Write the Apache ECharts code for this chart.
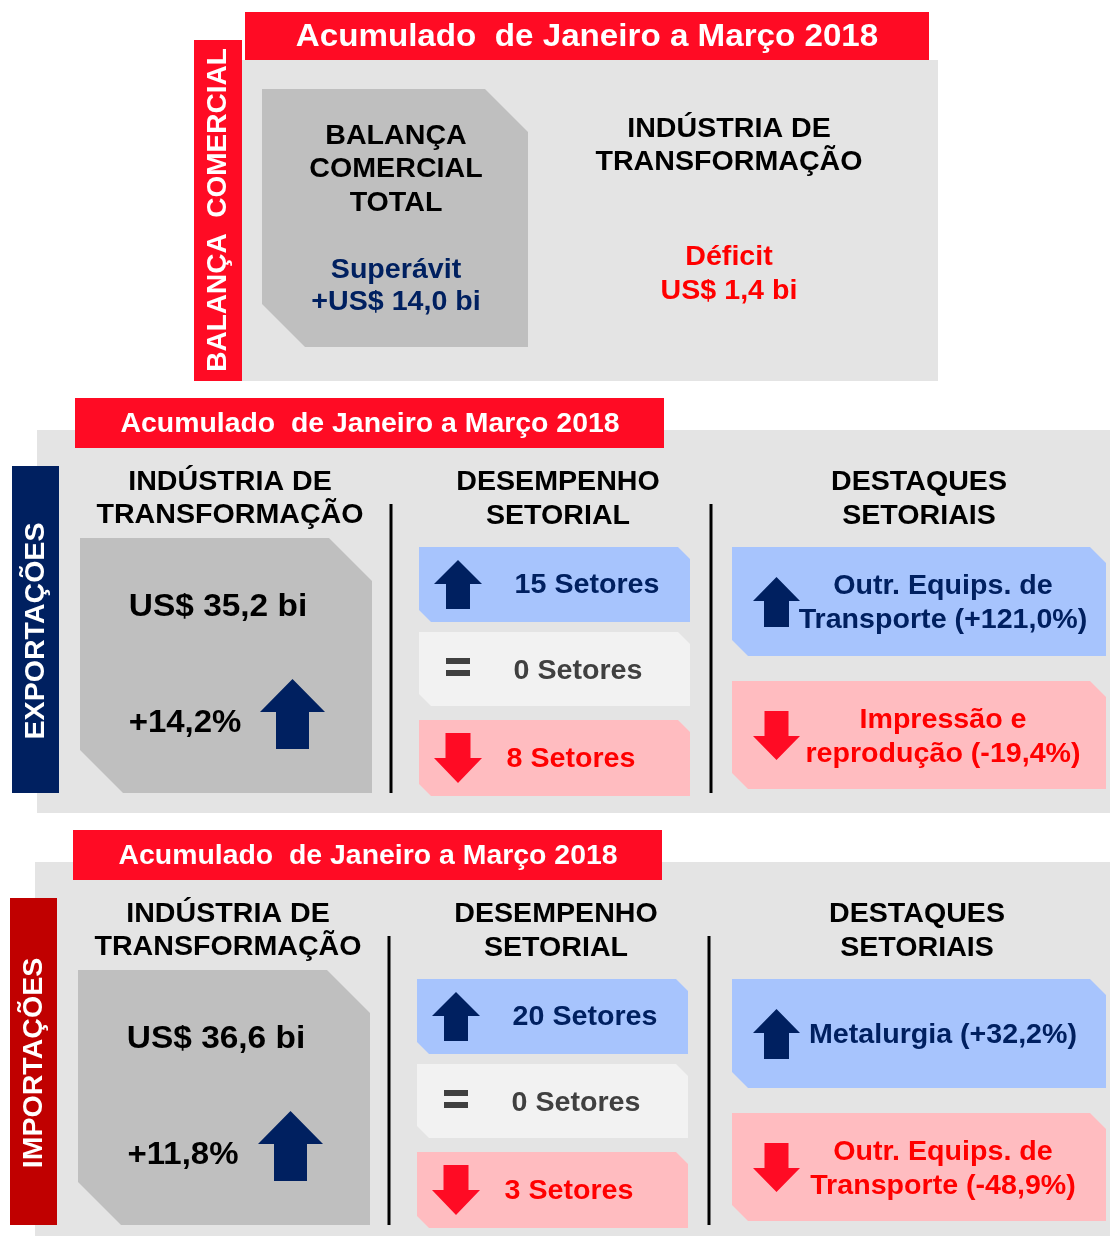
<!DOCTYPE html>
<html><head><meta charset="utf-8">
<script src="https://cdn.jsdelivr.net/npm/echarts@6/dist/echarts.min.js"></script>
<style>html,body{margin:0;padding:0;background:#fff}#c{width:1110px;height:1236px}</style>
</head><body><div id="c"></div>
<script>
// ---- data ----
const periodTitle = 'Acumulado  de Janeiro a Março 2018';
const balanceLabel = 'BALANÇA  COMERCIAL';
const balanceHeader = ['BALANÇA', 'COMERCIAL', 'TOTAL'];
const balanceResult = ['Superávit', '+US$ 14,0 bi'];
const industryHeader = ['INDÚSTRIA DE', 'TRANSFORMAÇÃO'];
const industryResult = ['Déficit', 'US$ 1,4 bi'];
const sectionNames = ['EXPORTAÇÕES', 'IMPORTAÇÕES'];
const sectionValues = ['US$ 35,2 bi', 'US$ 36,6 bi'];
const sectionGrowth = ['+14,2%', '+11,8%'];
const sectorsUp = [15, 20];
const sectorsFlat = [0, 0];
const sectorsDown = [8, 3];
const performanceHeader = ['DESEMPENHO', 'SETORIAL'];
const highlightHeader = ['DESTAQUES', 'SETORIAIS'];
const highlightUp = [['Outr. Equips. de', 'Transporte (+121,0%)'], ['Metalurgia (+32,2%)']];
const highlightDown = [['Impressão e', 'reprodução (-19,4%)'], ['Outr. Equips. de', 'Transporte (-48,9%)']];

// ---- styles ----
const RED = '#ff0b24', NAVY = '#002060', DKRED = '#c00000';
const PANEL = '#e4e4e4', GRAYBOX = '#bfbfbf', BLUE = '#a7c4fd', PINK = '#ffbcc0', LIGHT = '#f2f2f2';
const TXTRED = '#ff0000', DARK = '#404040';
const FONT = '"Liberation Sans", Arial, sans-serif';
const SX = 1.06, DY = 2;

const els = [];
function rect(x, y, w, h, fill) { els.push({type: 'rect', shape: {x, y, width: w, height: h}, style: {fill}}); }
function chamfer(x, y, w, h, c, fill) {
  els.push({type: 'polygon', shape: {points: [[x, y], [x + w - c, y], [x + w, y + c], [x + w, y + h], [x + c, y + h], [x, y + h - c]]}, style: {fill}});
}
function text(str, x, y, size, fill, rot, sx) {
  const r = rot || 0;
  els.push({type: 'text', x: x + (r ? DY : 0), y: y + (r ? 0 : DY), rotation: r, scaleX: sx || (r ? 1.02 : SX),
    style: {text: str, fill, fontSize: size, fontWeight: 'bold', fontFamily: FONT, align: 'center', verticalAlign: 'middle'}});
}
function lines(arr, cx, cy, size, fill, gap) {
  const n = arr.length;
  arr.forEach((s, k) => text(s, cx, cy + (k - (n - 1) / 2) * gap, size, fill));
}
function arrow(cx, top, bottom, headW, shaftW, headH, up, fill) {
  let pts;
  if (up) {
    pts = [[cx, top], [cx + headW / 2, top + headH], [cx + shaftW / 2, top + headH], [cx + shaftW / 2, bottom], [cx - shaftW / 2, bottom], [cx - shaftW / 2, top + headH], [cx - headW / 2, top + headH]];
  } else {
    pts = [[cx, bottom], [cx + headW / 2, bottom - headH], [cx + shaftW / 2, bottom - headH], [cx + shaftW / 2, top], [cx - shaftW / 2, top], [cx - shaftW / 2, bottom - headH], [cx - headW / 2, bottom - headH]];
  }
  els.push({type: 'polygon', shape: {points: pts}, style: {fill}});
}
function vline(x, y1, y2) { els.push({type: 'line', shape: {x1: x, y1, x2: x, y2}, style: {stroke: '#000', lineWidth: 3}}); }

// ---- top block ----
rect(242, 60, 696, 321, PANEL);
rect(194, 40, 48, 341, RED);
rect(245, 12, 684, 48, RED);
text(periodTitle, 587, 35, 31, '#fff', 0, 1.07);
text(balanceLabel, 216, 210, 28, '#fff', Math.PI / 2, 1.0);
chamfer(262, 89, 266, 258, 43, GRAYBOX);
lines(balanceHeader, 396, 168, 27, '#000', 33.5);
lines(balanceResult, 396, 285, 27, NAVY, 32);
lines(industryHeader, 729, 144.5, 27, '#000', 33);
lines(industryResult, 729, 273, 27, TXTRED, 34);

// ---- sections ----
for (let i = 0; i < 2; i++) {
  const oy = i * 432, dx = i ? -2 : 0;
  rect(37 + dx, 430 + oy, 1075, 383, PANEL);
  rect(12 + dx, 466 + oy, 47, 327, i ? DKRED : NAVY);
  rect(75 + dx, 398 + oy, 589, 50, RED);
  text(periodTitle, 370 + dx, 422 + oy, 28, '#fff', 0, 1.015);
  text(sectionNames[i], 34 + dx, 631 + oy, 28, '#fff', Math.PI / 2);

  // industry column
  lines(industryHeader, 230 + dx, 497.5 + oy, 27, '#000', 33);
  chamfer(80 + dx, 538 + oy, 292, 255, 43, GRAYBOX);
  text(sectionValues[i], 218 + dx, 605 + oy, 32, '#000', 0, 1.045);
  text(sectionGrowth[i], 185 + dx, 721 + oy, 32, '#000', 0, 1.03);
  arrow(292.5 + dx, 679 + oy, 749 + oy, 65, 33, 33, true, NAVY);
  vline(391 + dx, 504 + oy, 793 + oy);
  vline(711 + dx, 504 + oy, 793 + oy);

  // performance column
  lines(performanceHeader, 558 + dx, 498 + oy, 27, '#000', 34);
  chamfer(419 + dx, 547 + oy, 271, 75, 12, BLUE);
  chamfer(419 + dx, 632 + oy, 271, 74, 12, LIGHT);
  chamfer(419 + dx, 720 + oy, 271, 76, 12, PINK);
  arrow(458 + dx, 560 + oy, 609 + oy, 48, 24, 24, true, NAVY);
  rect(446 + dx, 658 + oy, 24, 6, DARK);
  rect(446 + dx, 670 + oy, 24, 6, DARK);
  arrow(458 + dx, 733 + oy, 783 + oy, 48, 25, 25, false, RED);
  text(sectorsUp[i] + ' Setores', 587 + dx, 584 + oy, 27, NAVY);
  text(sectorsFlat[i] + ' Setores', 578 + dx, 670 + oy, 27, DARK);
  text(sectorsDown[i] + ' Setores', 571 + dx, 758 + oy, 27, TXTRED);

  // highlights column
  lines(highlightHeader, 919 + dx, 498 + oy, 27, '#000', 34);
  chamfer(732, 547 + oy, 374, 109, 16, BLUE);
  chamfer(732, 681 + oy, 374, 108, 16, PINK);
  arrow(776.5, 577 + oy, 627 + oy, 47, 25, 24, true, NAVY);
  arrow(776.5, 711 + oy, 760 + oy, 47, 24, 24, false, RED);
  lines(highlightUp[i], 943, 601.5 + oy, 27, NAVY, 34);
  lines(highlightDown[i], 943, 735.5 + oy, 27, TXTRED, 34);
}

const chart = echarts.init(document.getElementById('c'), null, {renderer: 'canvas'});
chart.setOption({animation: false, backgroundColor: '#fff', graphic: {elements: els}});
</script>
</body></html>
